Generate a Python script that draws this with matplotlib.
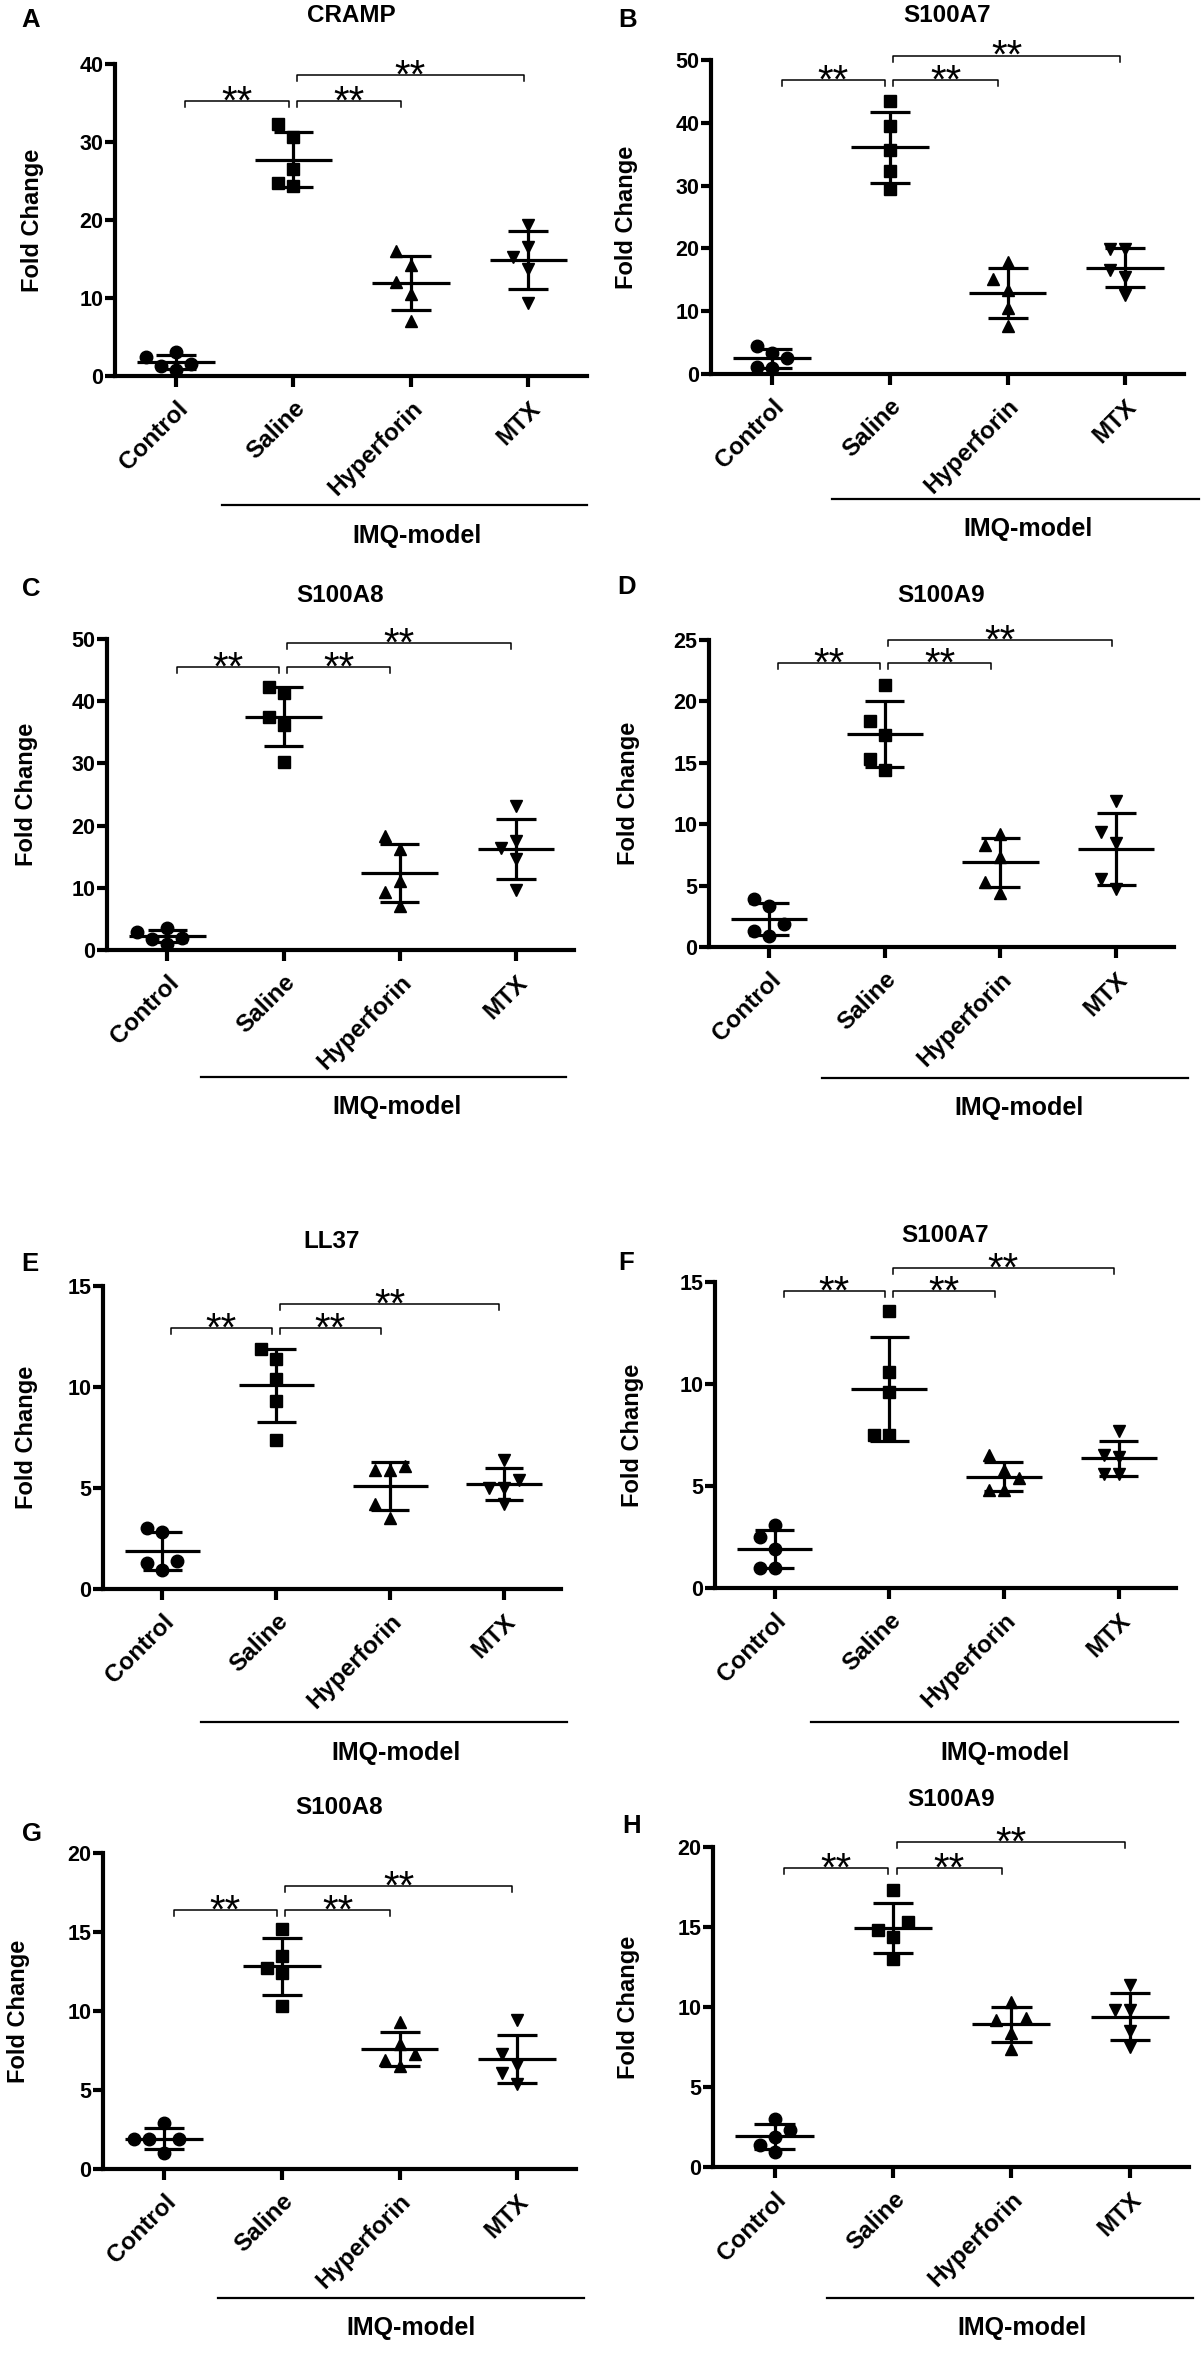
import numpy as np
import matplotlib
matplotlib.use("Agg")
import matplotlib.pyplot as plt
from matplotlib.lines import Line2D

W, H = 1202, 2358

groups = ["Control", "Saline", "Hyperforin", "MTX"]
group_markers = ["o", "s", "^", "v"]
group_marker_sizes = [9, 8, 9, 9]

panel_letters = ["A", "B", "C", "D", "E", "F", "G", "H"]
panel_titles = ["CRAMP", "S100A7", "S100A8", "S100A9", "LL37", "S100A7", "S100A8", "S100A9"]
y_max = [40, 50, 50, 25, 15, 15, 20, 20]
y_step = [10, 10, 10, 5, 5, 5, 5, 5]

# fold change per sample (Control, Saline, Hyperforin, MTX)
cramp = [[3.1, 1.5, 0.8, 1.3, 2.4], [32.3, 30.6, 26.6, 24.4, 24.8],
         [16.0, 14.2, 12.0, 10.5, 7.0], [19.4, 16.6, 15.3, 13.7, 9.4]]
s100a7_m = [[2.5, 4.4, 3.4, 1.1, 1.0], [43.5, 39.5, 35.6, 32.4, 29.4],
            [17.9, 15.2, 13.4, 10.5, 7.7], [19.9, 19.9, 16.6, 15.5, 12.6]]
s100a8_m = [[3.6, 2.0, 1.0, 1.7, 2.9], [42.3, 41.3, 37.5, 36.2, 30.3],
            [18.3, 16.2, 11.1, 9.3, 7.1], [23.1, 17.5, 16.4, 14.7, 9.6]]
s100a9_m = [[3.9, 3.3, 1.9, 1.3, 0.9], [21.3, 18.4, 17.3, 15.3, 14.4],
            [9.2, 8.3, 7.3, 5.3, 4.4], [11.9, 9.4, 8.5, 5.5, 4.7]]
ll37 = [[3.0, 2.8, 1.4, 1.3, 0.95], [11.9, 11.4, 10.4, 9.3, 7.4],
        [5.9, 5.9, 6.1, 4.2, 3.5], [6.4, 5.4, 5.0, 5.0, 4.2]]
s100a7_h = [[3.1, 2.5, 1.9, 1.0, 1.0], [13.6, 10.6, 9.6, 7.5, 7.5],
            [6.5, 5.4, 5.8, 4.8, 4.8], [7.7, 6.5, 6.4, 5.6, 5.6]]
s100a8_h = [[2.9, 1.9, 1.9, 1.9, 1.0], [15.2, 13.5, 12.7, 12.4, 10.3],
            [9.3, 7.9, 7.3, 6.9, 6.5], [9.4, 7.3, 6.6, 6.1, 5.4]]
s100a9_h = [[3.0, 2.3, 1.9, 1.4, 0.95], [17.3, 15.3, 14.8, 14.4, 13.0],
            [10.3, 9.3, 9.2, 8.4, 7.4], [11.4, 9.8, 9.8, 8.5, 7.5]]
panel_data = [cramp, s100a7_m, s100a8_m, s100a9_m, ll37, s100a7_h, s100a8_h, s100a9_h]

# significance brackets: (group a, group b) and label
comparisons = [(0, 1), (1, 2), (1, 3)]
sig_labels = ["**", "**", "**"]

# ---- layout (pixels in the 1202 x 2358 canvas) ----
# axes box: left, top, right, bottom
axes_box = [(115, 64, 587, 376), (711, 60, 1184, 374),
            (107, 639, 574, 950), (709, 640, 1174, 947),
            (103, 1286, 561, 1589), (715, 1282, 1176, 1588),
            (103, 1853, 576, 2169), (713, 1847, 1189, 2167)]
title_y = [15, 16, 596, 596, 1241, 1235, 1808, 1800]
letter_xy = [(31, 20), (628, 20), (31, 589), (627, 587),
             (30, 1264), (626, 1263), (32, 1834), (632, 1826)]
ylabel_x = [33, 627, 27, 629, 27, 633, 19, 629]
imq_line = [(222, 587, 505), (832, 1199, 499), (201, 566, 1077), (822, 1188, 1078),
            (201, 567, 1722), (811, 1178, 1722), (218, 584, 2298), (827, 1193, 2298)]
imq_text = [(417, 536), (1028, 529), (397, 1107), (1019, 1108),
            (396, 1753), (1005, 1753), (411, 2328), (1022, 2328)]
bracket_y = [(35.3, 35.3, 38.6), (46.8, 46.8, 50.7), (45.5, 45.5, 49.4), (23.1, 23.1, 25.0),
             (12.9, 12.9, 14.1), (14.55, 14.55, 15.7), (16.4, 16.4, 17.9), (18.7, 18.7, 20.3)]
XLIM = (-0.52, 3.5)

plt.rcParams["font.family"] = ["Liberation Sans", "DejaVu Sans"]
plt.rcParams["font.weight"] = "bold"


def fx(px):
    return px / W


def fy(py):
    return 1 - py / H


def swarm_offsets(values, ypx, xpx, d=15.0):
    # greedy beeswarm: spread points sideways when they would overlap
    order = np.argsort(values)
    placed = []
    offs = np.zeros(len(values))
    for i in order:
        y = values[i] * ypx
        for k in [0, -1, 1, -2, 2, -3, 3]:
            dx = k * d
            if all((dx - px) ** 2 + (y - py) ** 2 >= (d - 0.5) ** 2 for px, py in placed):
                break
        placed.append((dx, y))
        offs[i] = dx / xpx
    return offs


fig = plt.figure(figsize=(W / 100, H / 100), dpi=100)

for p in range(8):
    left, top, right, bottom = axes_box[p]
    ax = fig.add_axes([fx(left), fy(bottom), (right - left) / W, (bottom - top) / H])
    ax.set_xlim(*XLIM)
    ax.set_ylim(0, y_max[p])
    ypx = (bottom - top) / y_max[p]
    xpx = (right - left) / (XLIM[1] - XLIM[0])

    for g, vals in enumerate(panel_data[p]):
        vals = np.array(vals)
        m = vals.mean()
        sd = vals.std(ddof=1)
        offs = swarm_offsets(vals, ypx, xpx)
        ax.plot(g + offs, vals, linestyle="none", marker=group_markers[g],
                markersize=group_marker_sizes[g], color="black", clip_on=False, zorder=3)
        ax.hlines(m, g - 0.33, g + 0.33, color="black", linewidth=2.3, zorder=4)
        ax.hlines([m - sd, m + sd], g - 0.17, g + 0.17, color="black", linewidth=2.3, zorder=4)
        ax.vlines(g, m - sd, m + sd, color="black", linewidth=2.3, zorder=4)

    # significance brackets
    drop = 6 / ypx
    for c, (a, b) in enumerate(comparisons):
        x1 = a + (0.08 if a == 0 else 0.03)
        x2 = b - (0.04 if b != 2 else 0.08)
        yb = bracket_y[p][c]
        ax.plot([x1, x1, x2, x2], [yb - drop, yb, yb, yb - drop], color="black",
                linewidth=1.1, clip_on=False)
        ax.annotate(sig_labels[c], xy=((x1 + x2) / 2, yb), xytext=(0, -9),
                    textcoords="offset points", ha="center", va="baseline",
                    fontsize=29, fontweight="normal", annotation_clip=False)

    for side in ["top", "right"]:
        ax.spines[side].set_visible(False)
    for side in ["left", "bottom"]:
        ax.spines[side].set_linewidth(3)
    ax.set_yticks(np.arange(0, y_max[p] + 1, y_step[p]))
    ax.set_xticks(range(len(groups)))
    ax.set_xticklabels(groups, rotation=45, ha="right", va="top", rotation_mode="anchor",
                       fontsize=17.5, fontweight="bold")
    ax.tick_params(axis="x", length=8, width=3, pad=7)
    ax.tick_params(axis="y", length=7, width=3, pad=1.5, labelsize=15.5)

    ax.set_ylabel("Fold Change", fontsize=17, fontweight="bold", va="center")
    ax.yaxis.set_label_coords((ylabel_x[p] - left) / (right - left), 0.5)

    fig.text(fx((left + right) / 2), fy(title_y[p]), panel_titles[p], ha="center", va="center",
             fontsize=17.5, fontweight="bold")
    fig.text(fx(letter_xy[p][0]), fy(letter_xy[p][1]), panel_letters[p], ha="center",
             va="center", fontsize=18.5, fontweight="bold")

    x1, x2, yl = imq_line[p]
    fig.add_artist(Line2D([fx(x1), fx(x2)], [fy(yl), fy(yl)], color="black", linewidth=1.6,
                          transform=fig.transFigure))
    fig.text(fx(imq_text[p][0]), fy(imq_text[p][1]), "IMQ-model", ha="center", va="center",
             fontsize=18, fontweight="bold")

fig.savefig("out.png", dpi=100)
